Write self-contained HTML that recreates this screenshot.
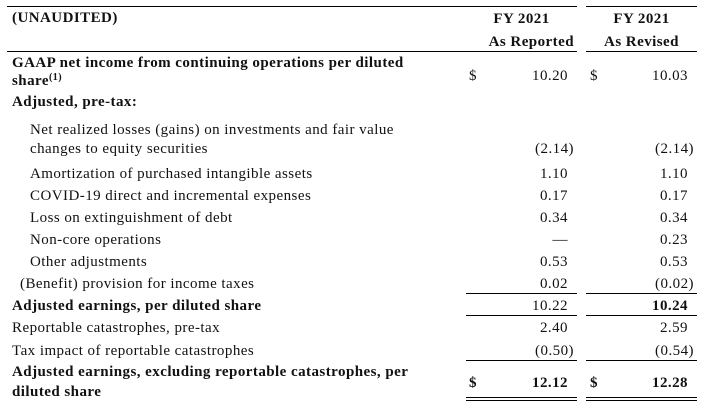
<!DOCTYPE html>
<html><head><meta charset="utf-8"><style>
body{margin:0;background:#fff;}
#t{position:relative;width:704px;height:408px;font-family:"Liberation Serif",serif;font-size:15px;color:#111;letter-spacing:0.45px;overflow:hidden}
#t div{position:absolute;line-height:18px;white-space:nowrap}
.b{font-weight:bold}
.r{text-align:right}
.hl{height:1px;background:#000}
sup{line-height:0;font-size:10px;vertical-align:5px}
</style></head><body>
<div id="t">
<div class="hl" style="left:7px;top:6px;width:570px"></div>
<div class="hl" style="left:586px;top:6px;width:111px"></div>
<div class="b" style="left:12px;top:9px">(UNAUDITED)</div>
<div class="b" style="left:466px;top:10px;width:111px;text-align:center">FY 2021</div>
<div class="b" style="left:466px;top:33px;width:108px;text-align:right">As Reported</div>
<div class="b" style="left:586px;top:10px;width:111px;text-align:center">FY 2021</div>
<div class="b" style="left:586px;top:33px;width:111px;text-align:center">As Revised</div>
<div class="hl" style="left:7px;top:51px;width:570px"></div>
<div class="hl" style="left:586px;top:51px;width:111px"></div>

<div class="b" style="left:12px;top:54px">GAAP net income from continuing operations per diluted</div>
<div class="b" style="left:12px;top:72px">share<sup>(1)</sup></div>
<div style="left:469px;top:67px">$</div>
<div class="r" style="left:480px;top:67px;width:88px">10.20</div>
<div style="left:590px;top:67px">$</div>
<div class="r" style="left:600px;top:67px;width:88px">10.03</div>
<div class="b" style="left:12px;top:93px">Adjusted, pre-tax:</div>

<div style="left:30px;top:121px">Net realized losses (gains) on investments and fair value</div>
<div style="left:30px;top:140px">changes to equity securities</div>
<div class="r" style="left:466px;top:140px;width:108px">(2.14)</div>
<div class="r" style="left:586px;top:140px;width:108px">(2.14)</div>

<div style="left:30px;top:165px">Amortization of purchased intangible assets</div>
<div class="r" style="left:466px;top:165px;width:102px">1.10</div>
<div class="r" style="left:586px;top:165px;width:102px">1.10</div>

<div style="left:30px;top:187px">COVID-19 direct and incremental expenses</div>
<div class="r" style="left:466px;top:187px;width:102px">0.17</div>
<div class="r" style="left:586px;top:187px;width:102px">0.17</div>

<div style="left:30px;top:209px">Loss on extinguishment of debt</div>
<div class="r" style="left:466px;top:209px;width:102px">0.34</div>
<div class="r" style="left:586px;top:209px;width:102px">0.34</div>

<div style="left:30px;top:231px">Non-core operations</div>
<div class="r" style="left:466px;top:231px;width:102px">—</div>
<div class="r" style="left:586px;top:231px;width:102px">0.23</div>

<div style="left:30px;top:253px">Other adjustments</div>
<div class="r" style="left:466px;top:253px;width:102px">0.53</div>
<div class="r" style="left:586px;top:253px;width:102px">0.53</div>

<div style="left:20px;top:275px">(Benefit) provision for income taxes</div>
<div class="r" style="left:466px;top:275px;width:102px">0.02</div>
<div class="r" style="left:586px;top:275px;width:108px">(0.02)</div>
<div class="hl" style="left:466px;top:293px;width:111px"></div>
<div class="hl" style="left:586px;top:293px;width:111px"></div>

<div class="b" style="left:12px;top:297px">Adjusted earnings, per diluted share</div>
<div class="r" style="left:466px;top:297px;width:102px">10.22</div>
<div class="r b" style="left:586px;top:297px;width:102px">10.24</div>
<div class="hl" style="left:466px;top:315px;width:111px"></div>
<div class="hl" style="left:586px;top:315px;width:111px"></div>

<div style="left:12px;top:319px">Reportable catastrophes, pre-tax</div>
<div class="r" style="left:466px;top:319px;width:102px">2.40</div>
<div class="r" style="left:586px;top:319px;width:102px">2.59</div>

<div style="left:12px;top:342px">Tax impact of reportable catastrophes</div>
<div class="r" style="left:466px;top:342px;width:108px">(0.50)</div>
<div class="r" style="left:586px;top:342px;width:108px">(0.54)</div>
<div class="hl" style="left:466px;top:360px;width:111px"></div>
<div class="hl" style="left:586px;top:360px;width:111px"></div>

<div class="b" style="left:12px;top:363px">Adjusted earnings, excluding reportable catastrophes, per</div>
<div class="b" style="left:12px;top:383px">diluted share</div>
<div class="b" style="left:469px;top:374px">$</div>
<div class="r b" style="left:480px;top:374px;width:88px">12.12</div>
<div class="b" style="left:590px;top:374px">$</div>
<div class="r b" style="left:600px;top:374px;width:88px">12.28</div>
<div class="hl" style="left:466px;top:397px;width:111px"></div>
<div class="hl" style="left:466px;top:400px;width:111px"></div>
<div class="hl" style="left:586px;top:397px;width:111px"></div>
<div class="hl" style="left:586px;top:400px;width:111px"></div>
</div>
</body></html>
